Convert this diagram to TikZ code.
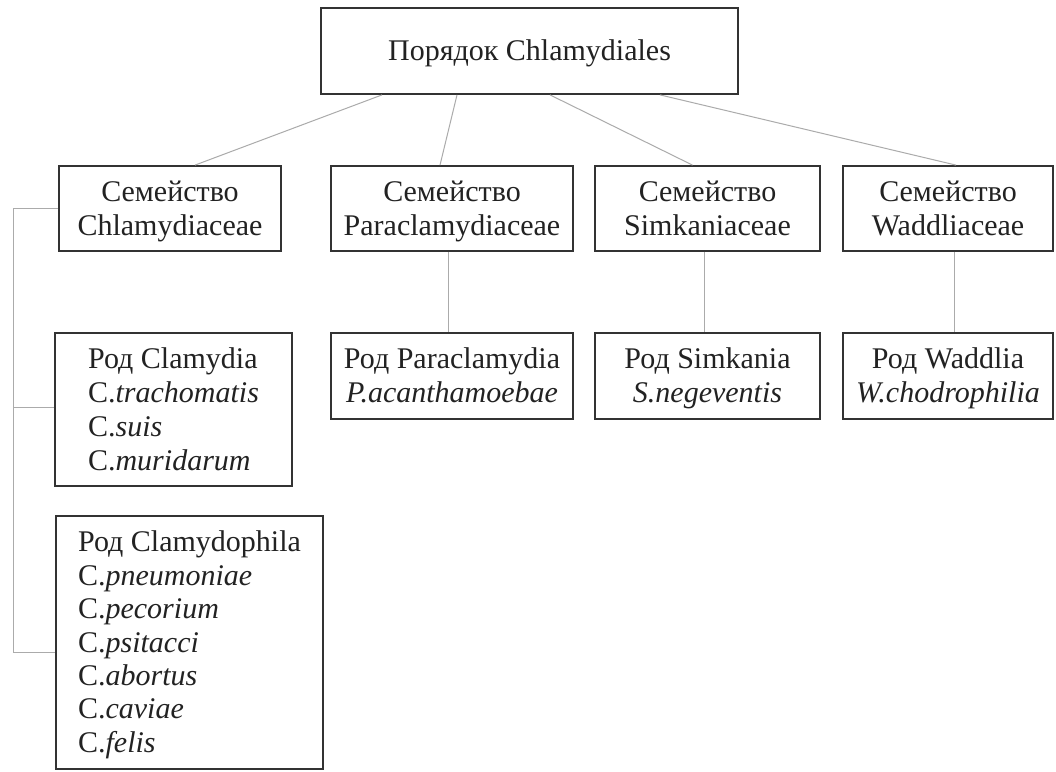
\documentclass[tikz,border=0pt]{standalone}
\usepackage{fontspec}
\setmainfont{Liberation Serif}
\definecolor{boxc}{HTML}{333333}
\definecolor{txt}{HTML}{222222}
\definecolor{linec}{HTML}{ABABAB}
\newcommand{\lnstrut}{\rule[-7pt]{0pt}{33pt}}
\begin{document}
\begin{tikzpicture}[x=1pt,y=-1pt,
  box/.style={draw=boxc, line width=1.8pt, inner sep=0pt, align=center, text=txt,
    font=\fontsize{30}{34}\selectfont},
  conn/.style={draw=linec, line width=1pt}]
\useasboundingbox[fill=white] (0,0) rectangle (1056,771);
% order
\node[box, minimum width=417pt, minimum height=86pt] (ord) at (529.5,51) {\lnstrut Порядок Chlamydiales};
% families
\node[box, minimum width=222pt, minimum height=85pt] (f1) at (170,208.5) {\lnstrut Семейство\\\lnstrut Chlamydiaceae};
\node[box, minimum width=242pt, minimum height=85pt] (f2) at (452,208.5) {\lnstrut Семейство\\\lnstrut Paraclamydiaceae};
\node[box, minimum width=225pt, minimum height=85pt] (f3) at (707.5,208.5) {\lnstrut Семейство\\\lnstrut Simkaniaceae};
\node[box, minimum width=210pt, minimum height=85pt] (f4) at (948,208.5) {\lnstrut Семейство\\\lnstrut Waddliaceae};
% genera
\node[box, align=left, minimum width=237pt, minimum height=153pt] (g1) at (173.5,409.5)
  {\lnstrut Род Clamydia\\C.\textit{trachomatis}\\C.\textit{suis}\\\lnstrut C.\textit{muridarum}};
\node[box, align=left, minimum width=267pt, minimum height=253pt,
  font=\fontsize{30}{33.4}\selectfont] (g2) at (189.5,642.5)
  {\lnstrut Род Clamydophila\\C.\textit{pneumoniae}\\C.\textit{pecorium}\\C.\textit{psitacci}\\C.\textit{abortus}\\C.\textit{caviae}\\\lnstrut C.\textit{felis}};
\node[box, minimum width=242pt, minimum height=86pt] (gP) at (452,376) {\lnstrut Род Paraclamydia\\\lnstrut\textit{P.acanthamoebae}};
\node[box, minimum width=225pt, minimum height=86pt] (gS) at (707.5,376) {\lnstrut Род Simkania\\\lnstrut\textit{S.negeventis}};
\node[box, minimum width=210pt, minimum height=86pt] (gW) at (948,376) {\lnstrut Род Waddlia\\\lnstrut\textit{W.chodrophilia}};
% connectors order -> families
\draw[conn] ([xshift=-147.5pt]ord.south) -- ([xshift=25pt]f1.north);
\draw[conn] ([xshift=-72.5pt]ord.south) -- ([xshift=-12pt]f2.north);
\draw[conn] ([xshift=20.5pt]ord.south) -- ([xshift=-15pt]f3.north);
\draw[conn] ([xshift=130.5pt]ord.south) -- ([xshift=8pt]f4.north);
% families -> genera
\draw[conn] ([xshift=-4pt]f2.south) -- ([xshift=-4pt]gP.north);
\draw[conn] ([xshift=-3.5pt]f3.south) -- ([xshift=-3.5pt]gS.north);
\draw[conn] ([xshift=6pt]f4.south) -- ([xshift=6pt]gW.north);
% bracket
\coordinate (bt) at (13,208.5);
\coordinate (bm) at (13,407);
\coordinate (bb) at (13,652);
\draw[conn] (f1.west) -- (bt) -- (bb) -- (bb -| g2.west);
\draw[conn] (bm) -- (bm -| g1.west);
\end{tikzpicture}
\end{document}
